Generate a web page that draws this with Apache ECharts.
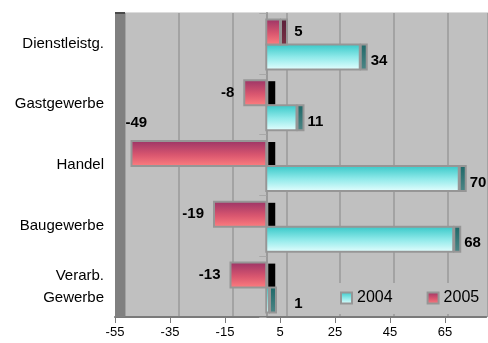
<!DOCTYPE html>
<html>
<head>
<meta charset="utf-8">
<script src="https://cdn.jsdelivr.net/npm/echarts@6/dist/echarts.min.js"></script>
<style>
  html, body { margin: 0; padding: 0; background: #ffffff; }
  #chart { width: 488px; height: 343px; }
</style>
</head>
<body>
<div id="chart"></div>
<script>
// Sectors, listed bottom to top as they appear on the category axis
const categories = ['Verarb.\nGewerbe', 'Baugewerbe', 'Handel', 'Gastgewerbe', 'Dienstleistg.'];
const values2004 = [1, 68, 70, 11, 34];
const values2005 = [-13, -19, -49, -8, 5];
const seriesNames = ['2004', '2005'];
const xTickValues = [-55, -35, -15, 5, 25, 45, 65];
const X_MIN = -55;
const X_MAX = 80;
const X_STEP = 20;

// Layout of the pseudo-3D box
const PLOT_LEFT = 115;
const PLOT_TOP = 13;
const PLOT_BOTTOM = 26;
const WALL = 10;     // depth of the left side wall / back-wall shift
const CAP = 6;       // visible end face of each bar
const W = 488, H = 343;
const plotWidth = (X_MAX - X_MIN) * 2.75;

const FONT = '"Liberation Sans", Arial, sans-serif';
const LABEL_FONT = 'bold 15px ' + FONT;

const fill2004 = { type: 'linear', x: 0, y: 0, x2: 0, y2: 1,
  colorStops: [{ offset: 0, color: '#33c6c6' }, { offset: 0.5, color: '#8ee9e9' }, { offset: 1, color: '#e8ffff' }] };
const cap2004 = { type: 'linear', x: 0, y: 0, x2: 0, y2: 1,
  colorStops: [{ offset: 0, color: '#1d6868' }, { offset: 1, color: '#4f8787' }] };
const fill2005 = { type: 'linear', x: 0, y: 0, x2: 0, y2: 1,
  colorStops: [{ offset: 0, color: '#993366' }, { offset: 0.55, color: '#d9566f' }, { offset: 1, color: '#ff8080' }] };
const cap2005 = { type: 'linear', x: 0, y: 0, x2: 0, y2: 1,
  colorStops: [{ offset: 0, color: '#5a1f3a' }, { offset: 1, color: '#7a3345' }] };

const measureCtx = document.createElement('canvas').getContext('2d');
function textWidth(txt) {
  measureCtx.font = LABEL_FONT;
  return measureCtx.measureText(txt).width;
}

function barRenderer(isUpper, faceFill, capFill) {
  return function (params, api) {
    const cat = api.value(0);
    const v = api.value(1);
    const zero = api.coord([0, cat]);
    const end = api.coord([v, cat]);
    const band = api.size([0, 1])[1];
    const h = Math.round(band * 0.41);
    const cy = zero[1] + 1;
    const top = isUpper ? cy - h : cy;
    const x0 = zero[0];
    const x1 = end[0];
    const border = { stroke: '#969696', lineWidth: 2 };
    const children = [{
      type: 'rect',
      shape: { x: Math.min(x0, x1), y: top, width: Math.abs(x1 - x0), height: h },
      style: Object.assign({ fill: faceFill }, border)
    }];
    const txt = String(v);
    let label;
    if (v >= 0) {
      children.push({
        type: 'rect',
        shape: { x: x1 + 1, y: top, width: CAP, height: h },
        style: Object.assign({ fill: capFill }, border)
      });
      label = { x: Math.max(x1 + 11, x0 + 28), y: top + h / 2 + (isUpper ? 0 : 4), align: 'left' };
    } else {
      children.push({
        type: 'rect',
        shape: { x: x0 + 2, y: top + 1, width: CAP + 1, height: h - 2 },
        style: { fill: '#000000' }
      });
      const rightEdge = x1 - 10;
      if (rightEdge - textWidth(txt) < PLOT_LEFT + WALL + 2) {
        label = { x: x1 - 6, y: top - 18, align: 'left' };
      } else {
        label = { x: rightEdge, y: top + h / 2, align: 'right' };
      }
    }
    children.push({
      type: 'text',
      style: {
        text: txt, x: label.x, y: label.y, align: label.align, verticalAlign: 'middle',
        fill: '#000000', font: LABEL_FONT
      }
    });
    return { type: 'group', children: children };
  };
}

const chart = echarts.init(document.getElementById('chart'), null, { renderer: 'canvas' });

chart.setOption({
  animation: false,
  backgroundColor: '#ffffff',
  grid: [
    { left: PLOT_LEFT, top: PLOT_TOP, width: plotWidth, bottom: PLOT_BOTTOM, containLabel: false },
    // back wall, shifted right by the box depth
    { left: PLOT_LEFT + WALL, top: PLOT_TOP, width: plotWidth, bottom: PLOT_BOTTOM,
      show: true, backgroundColor: '#c0c0c0', borderWidth: 0 }
  ],
  graphic: [
    { type: 'rect', z: 1, shape: { x: PLOT_LEFT, y: PLOT_TOP, width: WALL, height: H - PLOT_TOP - PLOT_BOTTOM },
      style: { fill: '#808080' } },
    { type: 'rect', z: 1, shape: { x: PLOT_LEFT, y: PLOT_TOP - 1, width: WALL, height: 2 },
      style: { fill: '#4a4a4a' } },
    { type: 'rect', z: 0, shape: { x: PLOT_LEFT + WALL, y: PLOT_TOP - 1, width: W, height: 1 },
      style: { fill: '#dcdcdc' } }
  ],
  xAxis: [
    {
      type: 'value', gridIndex: 0, min: X_MIN, max: X_MAX, interval: X_STEP,
      axisLine: { show: true, lineStyle: { color: '#7a7a7a', width: 2 } },
      axisTick: { show: true, length: 6, customValues: xTickValues, lineStyle: { color: '#7a7a7a' } },
      axisLabel: { customValues: xTickValues, color: '#000000',
        fontSize: 13, fontFamily: FONT, margin: 9 },
      splitLine: { show: false }
    },
    {
      type: 'value', gridIndex: 1, min: X_MIN, max: X_MAX, interval: X_STEP,
      axisLine: { show: false }, axisTick: { show: false }, axisLabel: { show: false },
      splitLine: { show: true, lineStyle: { color: '#a3a3a3', width: 2 } }
    }
  ],
  yAxis: [
    {
      type: 'category', gridIndex: 0, data: categories,
      axisLine: { show: false },
      axisTick: { show: true, length: 7, lineStyle: { color: '#a8a8a8' } },
      axisLabel: { color: '#000000', fontSize: 15, fontFamily: FONT, margin: 11, lineHeight: 22, align: 'right' }
    },
    {
      // category axis line drawn where the values cross zero
      type: 'category', gridIndex: 0, data: categories, position: 'left',
      offset: -(0 - X_MIN) * 2.75,
      axisLine: { show: true, lineStyle: { color: '#9a9a9a', width: 2 } },
      axisTick: { show: true, length: 6, lineStyle: { color: '#a8a8a8' } },
      axisLabel: { show: false }
    },
    { type: 'value', gridIndex: 1, show: false }
  ],
  legend: {
    left: 306, top: 283,
    padding: [7, 4, 8, 34],
    backgroundColor: '#c0c0c0',
    itemWidth: 11, itemHeight: 11, itemGap: 34,
    icon: 'rect',
    textStyle: { color: '#000000', fontSize: 16, fontFamily: FONT },
    data: [
      { name: seriesNames[0], itemStyle: { color: fill2004, borderColor: '#969696', borderWidth: 2 } },
      { name: seriesNames[1], itemStyle: { color: fill2005, borderColor: '#969696', borderWidth: 2 } }
    ]
  },
  series: [
    {
      name: seriesNames[0], type: 'custom', xAxisIndex: 0, yAxisIndex: 0, z: 3,
      renderItem: barRenderer(false, fill2004, cap2004),
      encode: { x: 1, y: 0 },
      data: values2004.map((v, i) => [i, v])
    },
    {
      name: seriesNames[1], type: 'custom', xAxisIndex: 0, yAxisIndex: 0, z: 3,
      renderItem: barRenderer(true, fill2005, cap2005),
      encode: { x: 1, y: 0 },
      data: values2005.map((v, i) => [i, v])
    }
  ]
});
</script>
</body>
</html>
